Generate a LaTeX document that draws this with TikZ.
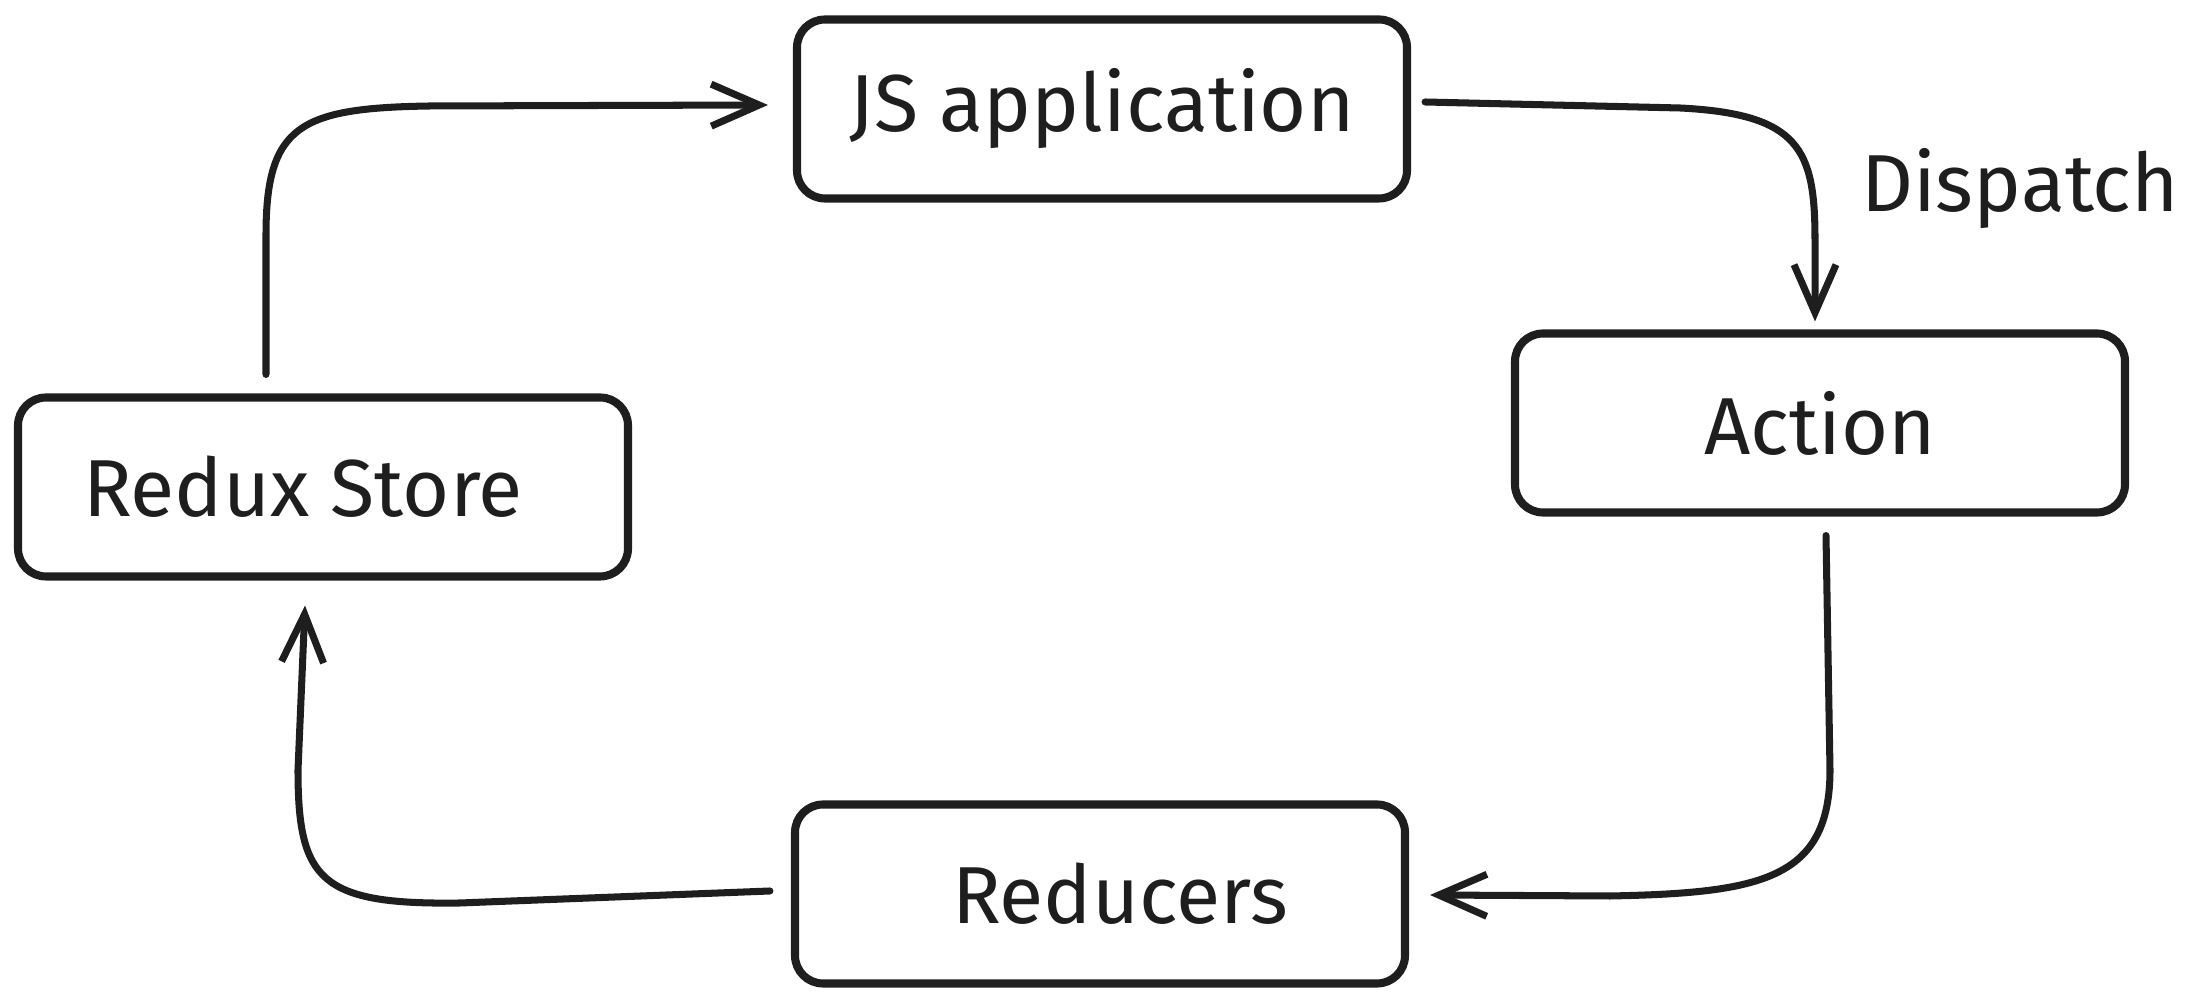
\documentclass[tikz,border=0pt]{standalone}
\usepackage{fontspec}
\setmainfont{Fira Sans}
\usepackage{tikz}
\usetikzlibrary{arrows.meta, positioning, calc}
\definecolor{mydark}{RGB}{30,30,30}
\tikzset{
  block/.style={rectangle, draw=mydark, fill=white,
    minimum width=61mm, minimum height=17.9mm, align=center,
    font=\fontsize{23}{27}\selectfont, text=mydark,
    rounded corners=2.8mm, line width=2.3pt},
  arrow/.style={-{Straight Barb[length=4.8mm, width=4.2mm, line width=2pt]},
    line width=2pt, color=mydark, line cap=round},
  label/.style={font=\fontsize{23}{27}\selectfont, text=mydark}
}
\begin{document}
\begin{tikzpicture}[x=0.1mm, y=-0.1mm]
  \useasboundingbox (0,0) rectangle (2194,1002);
  % Boxes
  \node[block] (js) at (1102,109) {\raisebox{-1.2mm}{JS application}};
  \node[block] (action) at (1820,423) {Action};
  \node[block] (redux) at (323,487) {\hspace*{-4mm}Redux Store};
  \node[block] (reducers) at (1100,894) {\hspace*{4mm}\raisebox{-0.6mm}{Reducers}};
  \node[label] (dispatch) at (2020,189) {Dispatch};
  % Store to application
  \draw[arrow] ($(redux.north)+(-57,-19)$) -- (266,235)
    .. controls (266,125) and (300,108) .. (430,106) -- ($(js.west)+(-25,-4)$);
  % Application to action
  \draw[arrow] ($(js.east)+(14,-7)$) -- (1680,108)
    .. controls (1800,114) and (1815,150) .. (1815,240) -- ($(action.north)+(-5,-8)$);
  % Action to reducers
  \draw[arrow] ($(action.south)+(6,19)$) -- (1830,770)
    .. controls (1830,880) and (1760,893) .. (1610,896) -- ($(reducers.east)+(21,1)$);
  % Reducers to store
  \draw[arrow] ($(reducers.west)+(-21,-3)$) -- (460,903)
    .. controls (320,905) and (298,880) .. (298,770) -- ($(redux.south)+(-18,25)$);
\end{tikzpicture}
\end{document}
